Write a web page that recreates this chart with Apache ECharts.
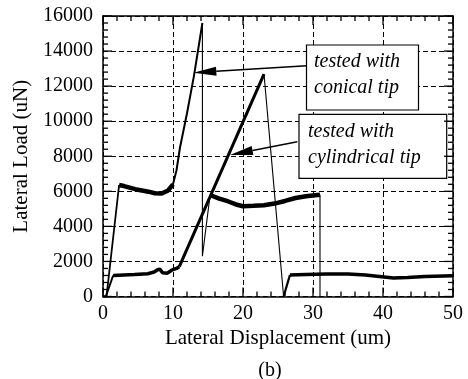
<!DOCTYPE html>
<html><head><meta charset="utf-8">
<script src="https://cdn.jsdelivr.net/npm/echarts@6/dist/echarts.min.js"></script>
<style>html,body{margin:0;padding:0;background:#fff}#c{width:468px;height:379px}</style>
</head><body><div id="c"></div>
<script>
// axis ranges
const xMin = 0, xMax = 50, xStep = 10, xMinorStep = 2;
const yMin = 0, yMax = 16000, yStep = 2000, yMinorStep = 400;
const xName = 'Lateral Displacement (um)';
const yName = 'Lateral Load (uN)';
const caption = '(b)';

// conical tip curve, by segment
const conRise1 = [[0,0],[0.5,0],[2.3,6360]];
const conPlat1 = [[2.3,6360],[3,6300],[4.6,6120],[6.5,5980],[7.4,5890],[8.4,5870],[9.3,6050],[10.0,6400]];
const conRamp  = [[10.0,6400],[10.5,7200],[11,8500],[12,10450],[13,12600],[14.2,15600]];
const conDrop  = [[14.2,15600],[14.2,2300],[15.3,5790]];
const conPlat2 = [[15.3,5790],[16.5,5600],[17.9,5420],[19,5250],[20,5150],[21.5,5170],[23,5200],[24.5,5300],[26,5450],[27.5,5620],[29,5720],[31,5800]];
const conDrop2 = [[31,5800],[31,0]];

// cylindrical tip curve, by segment
const cylRise1 = [[0,0],[0.4,0],[1.45,1200]];
const cylFlat1 = [[1.45,1200],[3,1230],[4.5,1250],[6.4,1300],[7.3,1400],[7.8,1530],[8.1,1560],[8.5,1360],[9.2,1330],[9.8,1500],[10.5,1600],[10.9,1700]];
const cylRamp  = [[10.9,1700],[23.0,12690]];
const cylDrop  = [[23.0,12690],[25.8,0]];
const cylRise2 = [[25.8,0],[26.7,1220]];
const cylFlat2 = [[26.7,1230],[29,1260],[32,1290],[35,1290],[37.5,1220],[39.8,1130],[41.5,1050],[43.5,1080],[46,1140],[50,1190]];

// annotations (data coordinates)
const labelTexts = ['tested with\nconical tip', 'tested with\ncylindrical tip'];
const arrowTails = [[29.1,13166],[27.76,8830]];
const arrowTips  = [[12.9,12767],[18.14,8072]];

const FONT = '"Liberation Serif","Times New Roman",serif';
const segs = [
  [conRise1,1.8],[conPlat1,4.5],[conRamp,2],[conDrop,1.1],[conPlat2,4.5],[conDrop2,1.1],
  [cylRise1,2],[cylFlat1,3.5],[cylRamp,3],[cylDrop,1.1],[cylRise2,2.2],[cylFlat2,3.5]
];
const series = segs.map(s => ({
  type:'line', data:s[0], showSymbol:false, symbol:'none', silent:true,
  lineStyle:{color:'#000', width:s[1]}, xAxisIndex:0, yAxisIndex:0, z:3
}));

function axLine(){ return {show:true, onZero:false, lineStyle:{color:'#000', width:1.5}}; }
function split(){ return {show:true, lineStyle:{color:'#000', width:1, type:[5,3]}}; }
const plain = v => String(v);

function mkX(pos, main){
  return {type:'value', min:xMin, max:xMax, interval:xStep, position:pos,
    axisLine:axLine(), axisTick:{show:false}, minorTick:{show:false}, splitLine: main ? split() : {show:false},
    axisLabel: main ? {show:true, color:'#000', fontSize:20, fontFamily:FONT, margin:7, formatter:plain} : {show:false},
    name: main ? xName : '', nameLocation:'middle', nameGap:28,
    nameTextStyle:{color:'#000', fontSize:21, fontFamily:FONT}};
}
function mkY(pos, main){
  return {type:'value', min:yMin, max:yMax, interval:yStep, position:pos,
    axisLine:axLine(), axisTick:{show:false}, minorTick:{show:false}, splitLine: main ? split() : {show:false},
    axisLabel: main ? {show:true, color:'#000', fontSize:20, fontFamily:FONT, margin:10, formatter:plain} : {show:false},
    name: main ? yName : '', nameLocation:'middle', nameGap:61,
    nameTextStyle:{color:'#000', fontSize:21, fontFamily:FONT}};
}

const chart = echarts.init(document.getElementById('c'), null, {renderer:'canvas'});
chart.setOption({
  animation:false,
  backgroundColor:'#fff',
  grid:{left:103, right:15, top:16, bottom:82.5},
  xAxis:[mkX('bottom', true), mkX('top', false)],
  yAxis:[mkY('left', true), mkY('right', false)],
  series:series
});

const g = [];
const px = p => chart.convertToPixel({gridIndex:0}, p);
// inward ticks on all four sides
const MAJ = 9, MIN = 5;
for (let v = xMin; v <= xMax + 1e-9; v += xMinorStep) {
  const len = (Math.abs(v / xStep - Math.round(v / xStep)) < 1e-6) ? MAJ : MIN;
  const b = px([v, yMin]), t = px([v, yMax]);
  g.push({type:'line', shape:{x1:b[0], y1:b[1], x2:b[0], y2:b[1]-len}, style:{stroke:'#000', lineWidth:1.3}, z:70});
  g.push({type:'line', shape:{x1:t[0], y1:t[1], x2:t[0], y2:t[1]+len}, style:{stroke:'#000', lineWidth:1.3}, z:70});
}
for (let v = yMin; v <= yMax + 1e-9; v += yMinorStep) {
  const len = (Math.abs(v / yStep - Math.round(v / yStep)) < 1e-6) ? MAJ : MIN;
  const l = px([xMin, v]), r = px([xMax, v]);
  g.push({type:'line', shape:{x1:l[0], y1:l[1], x2:l[0]+len, y2:l[1]}, style:{stroke:'#000', lineWidth:1.3}, z:70});
  g.push({type:'line', shape:{x1:r[0], y1:r[1], x2:r[0]-len, y2:r[1]}, style:{stroke:'#000', lineWidth:1.3}, z:70});
}

// annotation boxes and arrows
const boxes = [
  {x:306.5, y:45, w:112, h:65, tx:314, ty:48.5},
  {x:299, y:114.3, w:147.7, h:64, tx:308, ty:118.5}
];
arrowTails.forEach((t, i) => {
  const p0 = px(t);
  const p1 = px(arrowTips[i]);
  const dx = p1[0]-p0[0], dy = p1[1]-p0[1];
  const L = Math.hypot(dx, dy), ux = dx/L, uy = dy/L;
  const hl = 23, hw = 4.5;
  const bx = p1[0]-ux*hl, by = p1[1]-uy*hl;
  g.push({type:'line', shape:{x1:p0[0], y1:p0[1], x2:bx, y2:by}, style:{stroke:'#000', lineWidth:1.4}, z:50});
  g.push({type:'polygon', shape:{points:[[p1[0],p1[1]],[bx-uy*hw, by+ux*hw],[bx+uy*hw, by-ux*hw]]}, style:{fill:'#000'}, z:50});
});
boxes.forEach((b, i) => {
  g.push({type:'rect', shape:{x:b.x, y:b.y, width:b.w, height:b.h}, style:{fill:'#fff', stroke:'#000', lineWidth:1.2}, z:60});
  g.push({type:'text', x:b.tx, y:b.ty, style:{text:labelTexts[i], fontSize:20, fontStyle:'italic', fontFamily:FONT, lineHeight:26, fill:'#000', align:'left', verticalAlign:'top'}, z:61});
});
g.push({type:'text', x:270, y:371, style:{text:caption, fontSize:20, fontFamily:FONT, fill:'#000', align:'center', verticalAlign:'middle'}, z:61});
chart.setOption({graphic:g});
</script>
</body></html>
